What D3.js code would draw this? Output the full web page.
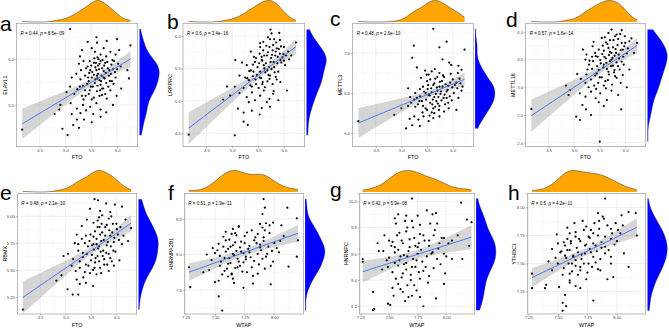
<!DOCTYPE html>
<html><head><meta charset="utf-8">
<script src="https://cdn.jsdelivr.net/npm/d3@7"></script>
<style>body{margin:0;background:#fff}svg{display:block}text{font-family:"Liberation Sans",Arial,sans-serif}</style>
</head><body><svg id="c" width="669" height="329"></svg>
<script>
// ---------- data ----------
const panelLetters = ["a","b","c","d","e","f","g","h"];
const xNames = ["FTO","FTO","FTO","FTO","FTO","WTAP","WTAP","WTAP"];
const yNames = ["ELAVL1","LRPPRC","METTL3","METTL16","RBMX","HNRNPA2B1","HNRNPC","YTHDC1"];
const rValues = ["0.44","0.6","0.48","0.57","0.48","0.51","0.42","0.5"];
const pValues = ["8.5e\u221209","3.4e\u221216","2.6e\u221210","1.6e\u221214","2.1e\u221210","1.9e\u221211","5.9e\u221208","4.2e\u221211"];
const xTicksFTO = [4.5,5.0,5.5,6.0];
const xTicksWTAP = [7.25,7.5,7.75,8.0];
const yTicksA = [5.5,6.0];
const yTicksB = [4.5,5.0,5.5,6.0];
const yTicksC = [6.0,6.5,7.0];
const yTicksD = [2.0,2.5,3.0,3.5,4.0];
const yTicksE = [5.25,5.5,5.75,6.0];
const yTicksF = [7.5,8.0,8.5];
const yTicksG = [9.2,9.4,9.6,9.8,10.0];
const yTicksH = [7.25,7.5,7.75,8.0];

const ptsA = [[5.09,6.33],[5.43,6.19],[5.61,6.18],[5.60,6.24],[6.00,6.22],[5.80,6.20],
[6.26,6.15],[5.32,6.10],[5.51,6.12],[5.68,6.05],[5.74,6.12],[5.87,6.08],[5.97,6.05],[5.28,6.03],[5.62,6.02],[6.04,6.10],[5.57,6.08],
[5.26,5.95],[5.35,5.98],[5.43,5.92],[5.48,5.88],[5.55,5.96],[5.63,5.93],[5.68,5.98],[5.71,5.90],[5.77,5.96],[5.82,5.90],[5.89,5.94],[5.94,5.98],[6.00,5.89],[6.07,5.92],[6.20,5.88],[5.47,5.98],[5.60,5.88],[5.74,5.87],[5.30,5.88],
[5.12,5.80],[5.21,5.84],[5.29,5.78],[5.38,5.82],[5.45,5.76],[5.51,5.80],[5.57,5.74],[5.61,5.82],[5.66,5.77],[5.74,5.80],[5.79,5.74],[5.84,5.82],[5.90,5.76],[5.97,5.80],[6.23,5.79],[5.42,5.73],[5.68,5.72],[5.93,5.73],
[5.02,5.64],[5.09,5.70],[5.17,5.62],[5.23,5.67],[5.32,5.60],[5.38,5.66],[5.45,5.62],[5.49,5.70],[5.55,5.58],[5.61,5.65],[5.66,5.60],[5.71,5.68],[5.77,5.62],[5.87,5.66],[5.99,5.60],[6.08,5.68],[5.35,5.56],[5.51,5.56],[5.80,5.57],
[4.90,5.50],[5.10,5.52],[5.22,5.46],[5.34,5.50],[5.40,5.44],[5.48,5.48],[5.60,5.52],[5.68,5.45],[5.79,5.42],[5.92,5.50],[4.79,5.40],[5.29,5.41],[5.54,5.40],[5.12,5.40],
[4.88,5.45],[4.94,5.24],[5.04,5.17],[5.22,5.34],[5.36,5.34],[5.26,5.25],[5.68,5.37],[4.16,5.23],[5.51,5.31],[5.15,5.28],
[5.52,5.86],[5.58,5.91],[5.63,5.84],[5.66,5.95],[5.70,5.82],[5.72,5.99],[5.75,5.93],[5.78,5.85],[5.81,5.97],[5.85,5.88],[5.58,5.78],[5.62,5.71],[5.65,5.89],[5.69,5.76],[5.73,5.68],[5.76,5.79],[5.64,6.00],[5.55,5.83],[5.46,5.85],[5.40,5.90],[5.88,5.84],[5.92,5.89],[5.96,5.86],[6.02,5.95],[5.53,5.70],[5.47,5.66],[5.59,5.96],[5.67,5.66],[5.71,5.61],[5.83,5.70],[5.79,6.03],[5.56,6.01],[5.50,5.93],[5.44,5.80],[5.62,5.79],[5.86,5.76],[5.91,5.99],[5.34,5.71],[5.39,5.60],[5.28,5.70]];

const ptsB = [[5.74,6.10],[5.76,6.04],[5.91,6.05],[5.54,5.89],[5.81,5.95],[5.92,5.94],[6.23,5.90],[5.69,5.98],
[5.36,5.76],[5.54,5.83],[5.60,5.78],[5.67,5.70],[5.72,5.83],[5.78,5.78],[5.86,5.81],[5.92,5.73],[6.00,5.83],[6.08,5.76],[6.14,5.70],[5.83,5.70],[5.57,5.68],[5.42,5.68],[5.97,5.67],
[5.06,5.63],[5.19,5.59],[5.28,5.55],[5.36,5.47],[5.44,5.60],[5.49,5.52],[5.57,5.63],[5.61,5.55],[5.68,5.47],[5.74,5.60],[5.81,5.52],[5.87,5.58],[5.93,5.63],[6.02,5.55],[6.10,5.64],[5.54,5.45],[5.89,5.45],[5.41,5.45],
[5.14,5.39],[5.25,5.36],[5.32,5.32],[5.40,5.38],[5.46,5.26],[5.53,5.36],[5.59,5.29],[5.63,5.21],[5.72,5.34],[5.78,5.26],[5.84,5.37],[5.93,5.29],[5.35,5.24],[5.51,5.20],[4.90,5.22],[5.05,5.22],[5.22,5.20],[5.73,5.39],
[4.82,5.02],[4.96,5.08],[5.14,5.12],[5.28,5.06],[5.38,5.13],[5.44,5.01],[5.54,5.08],[5.61,5.16],[5.72,5.03],[5.79,5.11],[6.06,5.16],[5.32,4.98],[5.67,4.98],[5.89,5.01],
[5.11,4.88],[5.22,4.82],[5.38,4.85],[5.53,4.79],[5.30,4.63],[5.22,4.68],[5.05,4.47],[4.16,4.48],[5.73,4.91],[5.57,4.89],
[5.58,5.62],[5.62,5.70],[5.65,5.58],[5.69,5.75],[5.71,5.52],[5.75,5.66],[5.77,5.71],[5.80,5.60],[5.84,5.76],[5.88,5.68],[5.90,5.80],[5.95,5.59],[5.99,5.72],[5.52,5.58],[5.48,5.40],[5.56,5.35],[5.64,5.44],[5.70,5.40],[5.76,5.49],[5.82,5.44],[5.66,5.85],[5.60,5.91],[5.85,5.90],[5.79,5.86],[5.46,5.66],[5.40,5.56],[5.33,5.46],[5.62,5.50],[5.53,5.73],[5.73,5.95],[5.94,5.84],[6.04,5.70],[5.86,5.33],[5.68,5.30],[5.45,5.33],[5.58,5.26],[5.29,5.35],[5.38,5.22],[5.80,5.15],[6.00,5.62]];

const ptsC = [[5.62,7.30],[5.24,7.09],[5.21,6.94],[5.88,7.14],[5.74,7.07],[6.23,7.04],
[5.30,6.82],[5.46,6.78],[5.53,6.73],[5.59,6.77],[5.65,6.80],[5.80,6.92],[5.93,6.88],[5.97,6.85],[6.11,6.84],[6.17,6.79],[5.74,6.75],[5.49,6.73],
[5.13,6.56],[5.38,6.69],[5.50,6.65],[5.56,6.67],[5.62,6.60],[5.66,6.68],[5.74,6.58],[5.79,6.65],[5.83,6.70],[5.91,6.59],[6.00,6.67],[6.07,6.63],[6.13,6.68],[6.19,6.58],[5.42,6.58],[5.51,6.55],
[5.27,6.50],[5.36,6.46],[5.44,6.52],[5.53,6.48],[5.59,6.51],[5.64,6.45],[5.70,6.53],[5.76,6.49],[5.82,6.44],[5.88,6.52],[5.94,6.46],[6.02,6.50],[6.11,6.44],[6.17,6.53],[5.48,6.42],[5.30,6.44],[5.17,6.45],
[5.19,6.38],[5.27,6.33],[5.35,6.40],[5.42,6.34],[5.50,6.29],[5.56,6.38],[5.62,6.31],[5.68,6.40],[5.74,6.34],[5.83,6.27],[5.91,6.38],[6.07,6.29],[5.00,6.31],[5.13,6.34],[5.59,6.26],[5.41,6.26],
[4.86,6.23],[5.09,6.06],[5.21,6.10],[5.36,6.09],[5.53,6.15],[5.25,6.21],[5.33,6.17],[5.43,6.21],[5.62,6.19],[4.16,6.15],[5.16,6.18],[5.74,6.21],
[5.55,6.47],[5.58,6.56],[5.61,6.42],[5.64,6.62],[5.67,6.49],[5.69,6.57],[5.72,6.45],[5.75,6.64],[5.77,6.52],[5.80,6.58],[5.84,6.48],[5.86,6.61],[5.90,6.54],[5.95,6.63],[5.99,6.57],[6.04,6.60],[6.09,6.56],[5.60,6.36],[5.66,6.33],[5.71,6.37],[5.78,6.41],[5.85,6.36],[5.52,6.60],[5.47,6.50],[5.40,6.40],[5.36,6.55],[5.32,6.36],[5.25,6.42],[5.70,6.70],[5.81,6.72],[5.96,6.74],[6.15,6.62],[5.64,6.25],[5.55,6.22],[5.47,6.31],[5.88,6.44],[5.98,6.41],[6.10,6.75],[5.73,6.29],[5.92,6.31]];

const ptsD = [[5.73,4.04],[5.93,4.03],[5.67,3.98],[5.83,3.95],[5.86,3.87],[5.99,3.92],[5.54,3.89],[6.08,3.83],[6.23,3.80],[5.77,3.85],[5.62,3.81],[5.93,3.80],
[5.36,3.74],[5.48,3.68],[5.56,3.75],[5.67,3.71],[5.73,3.62],[5.81,3.69],[5.87,3.59],[5.95,3.68],[6.03,3.61],[6.17,3.62],[5.24,3.59],[5.42,3.56],[5.59,3.55],[5.75,3.53],[5.98,3.74],[5.17,3.68],
[5.22,3.50],[5.29,3.41],[5.37,3.47],[5.45,3.38],[5.51,3.49],[5.58,3.41],[5.64,3.33],[5.70,3.47],[5.76,3.39],[5.83,3.45],[5.89,3.32],[5.97,3.41],[6.08,3.32],[5.48,3.31],[5.35,3.33],[5.79,3.31],
[5.06,3.24],[5.13,3.15],[5.24,3.23],[5.33,3.14],[5.41,3.21],[5.47,3.08],[5.54,3.18],[5.61,3.11],[5.68,3.23],[5.74,3.05],[5.83,3.17],[5.91,3.08],[5.39,3.03],[5.58,3.03],[5.22,3.08],
[4.84,3.03],[4.92,2.95],[4.89,2.86],[5.28,3.00],[5.33,2.92],[5.43,2.97],[5.51,2.89],[5.62,2.98],[5.73,2.94],[6.03,3.00],[5.22,2.83],[5.42,2.80],[5.64,2.77],[5.48,2.73],[5.86,2.86],[5.11,2.89],
[4.16,2.61],[5.04,2.47],[5.11,2.41],[5.23,2.60],[5.33,2.50],[5.50,2.02],[5.92,2.60],[5.58,2.66],[5.16,2.68],
[5.55,3.60],[5.58,3.66],[5.62,3.52],[5.65,3.78],[5.68,3.58],[5.70,3.64],[5.73,3.50],[5.76,3.72],[5.79,3.57],[5.82,3.62],[5.85,3.76],[5.88,3.52],[5.91,3.67],[5.96,3.55],[6.00,3.80],[6.05,3.70],[5.52,3.43],[5.57,3.36],[5.63,3.44],[5.67,3.28],[5.72,3.38],[5.78,3.27],[5.86,3.38],[5.93,3.46],[5.46,3.55],[5.41,3.62],[5.35,3.55],[5.30,3.48],[5.26,3.32],[5.44,3.25],[5.60,3.90],[5.70,3.85],[5.80,3.92],[5.90,3.96],[6.12,3.88],[5.50,3.18],[5.66,3.13],[5.80,3.20],[5.95,3.22],[5.38,3.82]];

const ptsE = [[5.57,6.16],[5.64,6.15],[5.80,6.12],[5.97,6.11],[6.11,6.09],[5.68,6.05],[5.88,6.04],[5.48,6.07],
[5.42,5.97],[5.55,5.94],[5.63,5.90],[5.71,5.93],[5.78,5.90],[5.85,5.98],[5.93,5.93],[6.01,5.88],[6.18,5.97],[6.29,5.89],[5.32,5.91],[5.66,5.99],
[5.22,5.83],[5.32,5.79],[5.40,5.82],[5.47,5.77],[5.55,5.81],[5.61,5.74],[5.68,5.83],[5.75,5.78],[5.81,5.73],[5.88,5.82],[5.95,5.76],[6.03,5.83],[6.11,5.74],[6.23,5.77],[5.52,5.73],[5.66,5.72],[5.18,5.75],
[5.05,5.65],[5.15,5.60],[5.25,5.68],[5.34,5.62],[5.42,5.65],[5.50,5.59],[5.56,5.69],[5.63,5.63],[5.69,5.67],[5.76,5.60],[5.85,5.65],[5.91,5.58],[6.06,5.59],[4.96,5.63],[5.58,5.57],[5.98,5.67],
[5.12,5.54],[5.20,5.49],[5.28,5.52],[5.38,5.48],[5.45,5.54],[5.54,5.50],[5.61,5.46],[5.68,5.52],[5.76,5.55],[5.85,5.49],[5.95,5.54],[5.35,5.43],[4.82,5.40],[4.92,5.45],[5.22,5.41],
[4.16,5.13],[5.04,5.32],[5.14,5.27],[5.25,5.27],[5.54,5.35],[5.28,5.37],[5.40,5.38],
[5.55,5.74],[5.58,5.86],[5.61,5.79],[5.64,5.70],[5.67,5.90],[5.70,5.77],[5.72,5.85],[5.74,5.68],[5.78,5.82],[5.81,5.92],[5.83,5.76],[5.86,5.87],[5.89,5.72],[5.92,5.85],[5.96,5.80],[6.00,5.93],[6.05,5.78],[5.52,5.64],[5.59,5.61],[5.66,5.58],[5.73,5.63],[5.80,5.66],[5.88,5.61],[5.49,5.83],[5.44,5.72],[5.38,5.75],[5.34,5.66],[5.28,5.58],[5.63,5.96],[5.72,6.01],[5.90,6.00],[6.08,5.90],[5.57,5.52],[5.70,5.47],[5.82,5.55],[6.14,5.82],[5.48,5.47],[5.94,5.68],[5.40,5.55],[5.25,5.74]];

const ptsF = [[7.91,8.78],[7.92,8.66],[7.90,8.57],[8.11,8.66],[8.19,8.51],
[7.65,8.36],[7.70,8.39],[7.77,8.31],[7.81,8.34],[7.88,8.43],[7.90,8.38],[7.93,8.44],[7.96,8.41],[7.99,8.45],[8.06,8.41],[7.57,8.25],[7.64,8.29],[7.68,8.27],[7.86,8.29],[7.92,8.34],
[7.53,8.15],[7.59,8.20],[7.63,8.11],[7.67,8.17],[7.71,8.10],[7.75,8.16],[7.79,8.12],[7.83,8.20],[7.88,8.10],[7.91,8.19],[7.95,8.11],[8.00,8.16],[8.05,8.19],[8.20,8.20],[7.48,8.09],
[7.50,8.02],[7.54,7.98],[7.59,8.04],[7.62,7.95],[7.65,8.01],[7.69,7.94],[7.72,8.04],[7.76,7.97],[7.79,8.03],[7.83,7.91],[7.86,8.01],[7.90,7.94],[7.94,8.01],[7.99,7.90],[8.04,8.03],[8.19,7.97],[7.74,7.89],
[7.28,7.82],[7.40,7.75],[7.45,7.78],[7.54,7.84],[7.58,7.77],[7.61,7.87],[7.64,7.73],[7.67,7.81],[7.71,7.84],[7.77,7.75],[7.81,7.82],[7.86,7.73],[7.92,7.80],[7.97,7.84],[8.12,7.83],[7.61,7.69],
[7.29,7.54],[7.50,7.61],[7.53,7.63],[7.53,7.41],[7.56,7.21],[7.74,7.53],[7.82,7.59],[7.97,7.58],[7.65,7.66],
[7.58,7.95],[7.61,8.08],[7.63,7.88],[7.65,8.13],[7.66,7.99],[7.68,8.05],[7.70,7.90],[7.72,8.18],[7.74,8.02],[7.76,7.93],[7.62,8.21],[7.60,7.80],[7.57,8.11],[7.55,7.90],[7.52,8.06],[7.69,7.82],[7.78,8.08],[7.80,7.96],[7.85,8.16],[7.87,7.86],[7.89,8.06],[7.91,8.24],[7.93,7.97],[7.96,8.30],[7.98,8.05],[7.84,8.24],[7.67,8.30],[7.73,7.76],[7.64,7.72],[7.59,8.32],[7.47,7.92],[7.43,8.00],[7.70,8.40],[7.82,7.70],[8.02,8.09],[8.08,8.26],[7.56,7.72],[7.75,8.26],[7.88,8.14],[7.66,7.60]];

const ptsG = [[7.70,10.02],[8.13,9.99],
[7.55,9.87],[7.56,9.83],[7.65,9.89],[7.70,9.85],[7.75,9.89],[7.83,9.93],[7.91,9.91],[7.77,9.82],[7.86,9.83],[7.92,9.83],[8.18,9.86],[8.22,9.84],[7.66,9.80],
[7.46,9.74],[7.53,9.69],[7.59,9.76],[7.62,9.68],[7.68,9.71],[7.73,9.66],[7.77,9.75],[7.81,9.70],[7.85,9.66],[7.89,9.74],[7.94,9.68],[7.98,9.72],[8.02,9.68],[8.10,9.74],[7.55,9.65],[7.75,9.65],
[7.41,9.62],[7.45,9.62],[7.50,9.57],[7.55,9.61],[7.59,9.55],[7.63,9.59],[7.67,9.62],[7.71,9.56],[7.75,9.60],[7.79,9.54],[7.83,9.58],[7.88,9.61],[7.92,9.56],[7.98,9.60],[8.05,9.56],[8.14,9.56],[8.20,9.66],[7.65,9.53],[7.27,9.56],[7.27,9.54],
[7.49,9.50],[7.53,9.46],[7.58,9.51],[7.61,9.42],[7.65,9.48],[7.69,9.44],[7.73,9.50],[7.77,9.41],[7.80,9.47],[7.85,9.43],[7.89,9.49],[7.99,9.45],[7.56,9.41],
[7.36,9.31],[7.36,9.17],[7.37,9.18],[7.49,9.22],[7.51,9.21],[7.53,9.34],[7.58,9.37],[7.62,9.31],[7.66,9.36],[7.70,9.28],[7.74,9.32],[7.77,9.27],[7.80,9.20],[7.91,9.26],[7.98,9.37],[7.64,9.24],[7.72,9.36],
[7.58,9.63],[7.61,9.70],[7.63,9.52],[7.65,9.77],[7.66,9.58],[7.68,9.65],[7.70,9.50],[7.72,9.72],[7.74,9.55],[7.76,9.68],[7.62,9.45],[7.60,9.58],[7.57,9.74],[7.55,9.53],[7.52,9.66],[7.69,9.40],[7.78,9.63],[7.80,9.74],[7.82,9.50],[7.85,9.70],[7.87,9.60],[7.90,9.78],[7.93,9.64],[7.96,9.72],[8.00,9.58],[7.64,9.85],[7.71,9.80],[7.48,9.55],[7.44,9.48],[7.50,9.70],[7.54,9.28],[7.60,9.33],[7.67,9.27],[7.76,9.46],[7.84,9.38],[7.95,9.52],[8.05,9.70],[7.88,9.90],[7.40,9.68],[7.58,9.90]];

const ptsH = [[7.74,7.83],[7.81,7.86],[7.85,7.88],[7.89,7.90],[7.92,7.84],[7.95,7.81],[7.99,7.86],[8.01,7.80],[7.84,7.95],[7.90,8.08],[8.04,7.93],[8.10,7.96],[8.16,7.95],[7.78,7.80],
[7.49,7.76],[7.58,7.72],[7.61,7.68],[7.65,7.74],[7.69,7.70],[7.73,7.66],[7.77,7.73],[7.80,7.68],[7.84,7.75],[7.87,7.69],[7.90,7.65],[7.95,7.72],[7.98,7.67],[8.03,7.77],[8.17,7.75],[7.56,7.66],
[7.53,7.61],[7.56,7.57],[7.60,7.62],[7.63,7.56],[7.67,7.60],[7.70,7.54],[7.73,7.59],[7.77,7.63],[7.80,7.56],[7.83,7.61],[7.86,7.54],[7.90,7.59],[7.95,7.56],[8.06,7.59],[7.65,7.53],
[7.50,7.50],[7.55,7.46],[7.59,7.50],[7.62,7.43],[7.65,7.48],[7.69,7.44],[7.72,7.50],[7.75,7.42],[7.79,7.47],[7.82,7.51],[7.86,7.44],[7.45,7.44],[7.28,7.41],[8.10,7.47],[7.60,7.41],
[7.28,7.28],[7.39,7.28],[7.40,7.31],[7.54,7.15],[7.56,7.22],[7.54,7.08],[7.57,7.12],[7.80,7.17],[7.97,7.38],[7.92,7.36],[7.60,7.35],[7.65,7.30],[7.74,7.36],[7.69,7.28],[7.51,7.29],
[7.58,7.62],[7.61,7.70],[7.63,7.57],[7.65,7.78],[7.66,7.64],[7.68,7.72],[7.70,7.58],[7.72,7.80],[7.74,7.67],[7.76,7.74],[7.62,7.50],[7.60,7.77],[7.57,7.55],[7.55,7.69],[7.52,7.60],[7.69,7.47],[7.78,7.60],[7.80,7.77],[7.82,7.66],[7.85,7.81],[7.87,7.64],[7.90,7.74],[7.93,7.62],[7.96,7.77],[8.00,7.70],[7.64,7.86],[7.71,7.88],[7.48,7.55],[7.45,7.63],[7.50,7.68],[7.54,7.40],[7.60,7.33],[7.67,7.40],[7.76,7.50],[7.84,7.45],[7.95,7.50],[8.05,7.84],[7.88,7.92],[7.42,7.52],[7.58,7.82]];

// ---------- layout (positions / scale settings) ----------
const panels = [
 {pts:ptsA, xt:xTicksFTO, yt:yTicksA, xf:".1f", yf:".1f", l:16.5, r:137.7, t:23.5, b:146.7, xd:[4.05,6.40], yd:[5.044,6.39], lx:0, ly:30.7},
 {pts:ptsB, xt:xTicksFTO, yt:yTicksB, xf:".1f", yf:".1f", l:183, r:304.7, t:23.5, b:146.7, xd:[4.05,6.40], yd:[4.294,6.193], lx:167, ly:28.5},
 {pts:ptsC, xt:xTicksFTO, yt:yTicksC, xf:".1f", yf:".1f", l:352.7, r:473.3, t:23.5, b:146.7, xd:[4.05,6.40], yd:[5.833,7.366], lx:330, ly:25.5},
 {pts:ptsD, xt:xTicksFTO, yt:yTicksD, xf:".1f", yf:".1f", l:525.7, r:645.7, t:23.5, b:146.7, xd:[4.05,6.40], yd:[1.928,4.15], lx:506, ly:26.7},
 {pts:ptsE, xt:xTicksFTO, yt:yTicksE, xf:".1f", yf:".2f", l:17.3, r:136.7, t:193.5, b:314, xd:[4.05,6.40], yd:[5.089,6.213], lx:0, ly:200},
 {pts:ptsF, xt:xTicksWTAP, yt:yTicksF, xf:".2f", yf:".1f", l:184.3, r:303.3, t:193.5, b:314, xd:[7.24,8.245], yd:[7.162,8.859], lx:168, ly:200},
 {pts:ptsG, xt:xTicksWTAP, yt:yTicksG, xf:".2f", yf:".1f", l:359.3, r:474.3, t:193.5, b:314, xd:[7.24,8.245], yd:[9.141,10.059], lx:330, ly:197},
 {pts:ptsH, xt:xTicksWTAP, yt:yTicksH, xf:".2f", yf:".2f", l:527.3, r:645.7, t:193.5, b:314, xd:[7.24,8.245], yd:[7.05,8.125], lx:508, ly:200}
];

const svg = d3.select("#c");

function kde(vals){
  const n = vals.length, s = [...vals].sort(d3.ascending);
  const sd = d3.deviation(s), iqr = d3.quantile(s,0.75)-d3.quantile(s,0.25);
  const bw = 0.9*Math.min(sd, iqr/1.34)*Math.pow(n,-0.2);
  const lo = s[0], hi = s[n-1], out = [];
  for(let i=0;i<=200;i++){
    const v = lo + (hi-lo)*i/200;
    let d = 0;
    for(const x of s){ const u=(v-x)/bw; d += Math.exp(-0.5*u*u); }
    out.push([v, d/(n*bw*Math.sqrt(2*Math.PI))]);
  }
  return out;
}
function minors(ticks, dom){
  const st = ticks[1]-ticks[0], res=[];
  for(let v=ticks[0]-st/2; v<=dom[1]+1e-9; v+=st) if(v>=dom[0]) res.push(v);
  return res;
}

panels.forEach((P,i)=>{
  const g = svg.append("g");
  const x = d3.scaleLinear().domain(P.xd).range([P.l,P.r]);
  const y = d3.scaleLinear().domain(P.yd).range([P.b,P.t]);
  const cid = "clip"+i;
  g.append("clipPath").attr("id",cid).append("rect").attr("x",P.l).attr("y",P.t).attr("width",P.r-P.l).attr("height",P.b-P.t);
  const inner = g.append("g").attr("clip-path",`url(#${cid})`);
  minors(P.xt,P.xd).forEach(v=>inner.append("line").attr("x1",x(v)).attr("x2",x(v)).attr("y1",P.t).attr("y2",P.b).attr("stroke","#F2F2F2").attr("stroke-width",0.4));
  minors(P.yt,P.yd).forEach(v=>inner.append("line").attr("y1",y(v)).attr("y2",y(v)).attr("x1",P.l).attr("x2",P.r).attr("stroke","#F2F2F2").attr("stroke-width",0.4));
  P.xt.forEach(v=>inner.append("line").attr("x1",x(v)).attr("x2",x(v)).attr("y1",P.t).attr("y2",P.b).attr("stroke","#E6E6E6").attr("stroke-width",0.6));
  P.yt.forEach(v=>inner.append("line").attr("y1",y(v)).attr("y2",y(v)).attr("x1",P.l).attr("x2",P.r).attr("stroke","#E6E6E6").attr("stroke-width",0.6));
  const xs = P.pts.map(d=>d[0]), ys = P.pts.map(d=>d[1]), n = xs.length;
  const mx = d3.mean(xs), my = d3.mean(ys);
  let sxx=0, sxy=0; xs.forEach((v,k)=>{sxx+=(v-mx)*(v-mx); sxy+=(v-mx)*(ys[k]-my);});
  const b1 = sxy/sxx, b0 = my-b1*mx;
  let sse=0; xs.forEach((v,k)=>{const e=ys[k]-(b0+b1*v); sse+=e*e;});
  const sig = Math.sqrt(sse/(n-2)), tq = 1.96+2.4/(n-2);
  const [xmin,xmax] = d3.extent(xs);
  const fit = d3.range(0,81).map(k=>{const v=xmin+(xmax-xmin)*k/80; const f=b0+b1*v; const se=sig*Math.sqrt(1/n+(v-mx)*(v-mx)/sxx); return [v,f,f-tq*se,f+tq*se];});
  inner.append("path").datum(fit).attr("d",d3.area().x(d=>x(d[0])).y0(d=>y(d[2])).y1(d=>y(d[3]))).attr("fill","#999999").attr("fill-opacity",0.4);
  inner.selectAll("circle").data(P.pts).join("circle").attr("cx",d=>x(d[0])).attr("cy",d=>y(d[1])).attr("r",1.1).attr("fill","#000");
  inner.append("path").datum(fit).attr("d",d3.line().x(d=>x(d[0])).y(d=>y(d[1]))).attr("fill","none").attr("stroke","#3366FF").attr("stroke-width",0.9);
  g.append("rect").attr("x",P.l).attr("y",P.t).attr("width",P.r-P.l).attr("height",P.b-P.t).attr("fill","none").attr("stroke","#8c8c8c").attr("stroke-width",0.6);
  const ax = g.append("g").attr("transform",`translate(0,${P.b})`).call(d3.axisBottom(x).tickValues(P.xt).tickFormat(d3.format(P.xf)).tickSize(1.5).tickPadding(1));
  const ay = g.append("g").attr("transform",`translate(${P.l},0)`).call(d3.axisLeft(y).tickValues(P.yt).tickFormat(d3.format(P.yf)).tickSize(1.5).tickPadding(1));
  [ax,ay].forEach(a=>{a.select(".domain").remove(); a.selectAll("line").attr("stroke","#444").attr("stroke-width",0.4);
    a.selectAll("text").attr("font-size",4.2).attr("fill","#4D4D4D").attr("font-family","Liberation Sans, Arial, sans-serif");});
  g.append("text").attr("x",(P.l+P.r)/2).attr("y",P.b+12.5).attr("text-anchor","middle").attr("font-size",5.4).attr("fill","#000").text(xNames[i]);
  const yx = Math.max(5.5, P.l-13);
  g.append("text").attr("transform",`translate(${yx},${(P.t+P.b)/2}) rotate(-90)`).attr("text-anchor","middle").attr("dy","0.35em").attr("font-size",5.4).attr("fill","#000").text(yNames[i]);
  const st = g.append("text").attr("x",P.l+4).attr("y",P.t+11.5).attr("font-size",4.5).attr("fill","#000");
  st.append("tspan").attr("font-style","italic").text("R");
  st.append("tspan").text(` = ${rValues[i]}, `);
  st.append("tspan").attr("font-style","italic").text("p");
  st.append("tspan").text(` = ${pValues[i]}`);
  const kx = kde(xs), ky = kde(ys);
  const dxs = d3.scaleLinear().domain([0,d3.max(kx,d=>d[1])]).range([P.t-1.5, P.t-23]);
  g.append("path").datum(kx).attr("d",d3.area().x(d=>x(d[0])).y0(P.t-1.5).y1(d=>dxs(d[1]))).attr("fill","#FFA500");
  g.append("path").datum(kx).attr("d",d3.line().x(d=>x(d[0])).y(d=>dxs(d[1]))).attr("fill","none").attr("stroke","#222").attr("stroke-width",0.5);
  const dys = d3.scaleLinear().domain([0,d3.max(ky,d=>d[1])]).range([P.r+1.8, P.r+21.5]);
  g.append("path").datum(ky).attr("d",d3.area().y(d=>y(d[0])).x0(P.r+1.8).x1(d=>dys(d[1]))).attr("fill","#0000FF");
  g.append("path").datum(ky).attr("d",d3.line().y(d=>y(d[0])).x(d=>dys(d[1]))).attr("fill","none").attr("stroke","#111144").attr("stroke-width",0.4);
  g.append("text").attr("x",P.lx).attr("y",P.ly).attr("font-size",21).attr("fill","#000").text(panelLetters[i]);
});
</script></body></html>
